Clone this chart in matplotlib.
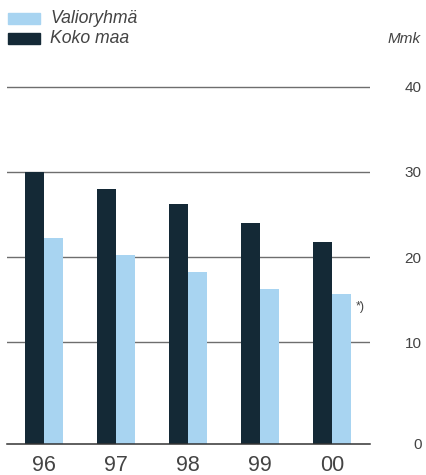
import matplotlib
matplotlib.use("Agg")
import matplotlib.pyplot as plt
import numpy as np
from matplotlib.patches import Rectangle

years = ["96", "97", "98", "99", "00"]
koko_maa = [30.0, 28.0, 26.2, 24.0, 21.8]
valioryhma = [22.2, 20.3, 18.3, 16.3, 15.7]
series_labels = ["Valioryhmä", "Koko maa"]
yticks = [10, 20, 30, 40]
unit = "Mmk"
note = "*)"

dark = "#142936"
light = "#a8d4f1"
txt = "#444444"
W, H = 426, 475

plt.rcParams["font.family"] = ["Liberation Sans", "DejaVu Sans"]

fig = plt.figure(figsize=(W / 100, H / 100), dpi=100)
fig.patch.set_facecolor("white")

ymin, ymax = -1.9, 43.13
ax = fig.add_axes([7 / W, (H - 443.7) / H, (370 - 7) / W, (443.7 - 60) / H])
ax.set_xlim(-0.514, 4.528)
ax.set_ylim(ymin, ymax)

x = np.arange(len(years))
bw = 0.264
ax.bar(x - bw / 2, np.array(koko_maa) - ymin, bw, bottom=ymin, color=dark, zorder=3)
ax.bar(x + bw / 2, np.array(valioryhma) - ymin, bw, bottom=ymin, color=light, zorder=3)

for t in yticks:
    ax.axhline(t, color="#6e6e6e", lw=1.0, zorder=1)
ax.axhline(ymin, color="#333333", lw=1.1, zorder=4, clip_on=False)

for s in ax.spines.values():
    s.set_visible(False)

ax.set_xticks(x)
ax.set_xticklabels(years, fontsize=15.5, color=txt)
ax.tick_params(axis="x", length=0, pad=8)

ax.set_yticks([ymin] + yticks)
ax.set_yticklabels(["0"] + [str(t) for t in yticks], fontsize=11, color=txt)
ax.yaxis.tick_right()
ax.tick_params(axis="y", length=0, pad=37)
for lab in ax.get_yticklabels():
    lab.set_horizontalalignment("right")

# "*)" note beside last light bar
ax.text(x[-1] + bw + 0.07, valioryhma[-1] - 1.6, note, fontsize=9, color=txt,
        ha="left", va="center")

# unit label
fig.text(421 / W, 1 - 39 / H, unit, fontsize=11, style="italic", color=txt,
         ha="right", va="center")

# legend
for i, (lab, col) in enumerate(zip(series_labels, [light, dark])):
    yc = 18.5 + i * 20
    fig.patches.append(Rectangle((8 / W, 1 - (yc + 5.5) / H), 32 / W, 11 / H,
                                 transform=fig.transFigure, color=col))
    fig.text(50 / W, 1 - yc / H, lab, fontsize=12.7, style="italic", color=txt,
             ha="left", va="center")

fig.savefig("out.png", dpi=100, facecolor="white")
